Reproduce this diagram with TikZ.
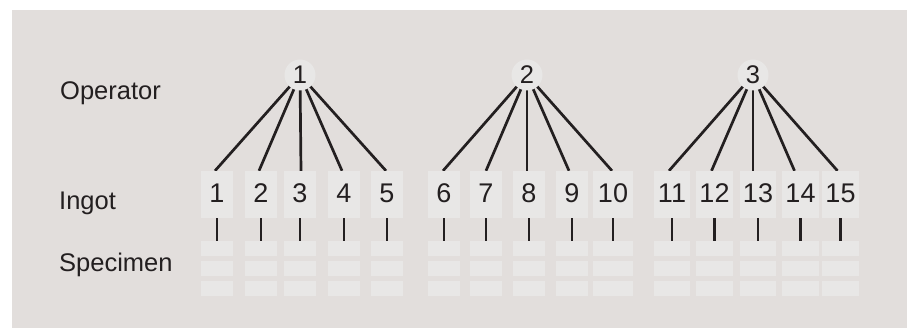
\documentclass[tikz,border=0pt]{standalone}
\usepackage{fontspec}
\setmainfont{Liberation Sans}
\usetikzlibrary{backgrounds}
\definecolor{panel}{HTML}{E2DEDC}
\definecolor{boxfill}{HTML}{E8E7E6}
\definecolor{ink}{HTML}{231F20}
\begin{document}
\begin{tikzpicture}[x=1pt,y=-1pt,
  every node/.style={font=\fontsize{25.5}{30}\selectfont, text=ink},
  ingot/.style={fill=boxfill, minimum height=47pt, inner sep=0pt,
    font=\fontsize{27}{30}\selectfont},
  spec/.style={fill=boxfill, minimum height=15pt, inner sep=0pt},
  op/.style={circle, fill=boxfill, minimum size=31pt, inner sep=0pt},
  wire/.style={draw=ink, line width=2.7pt},
  rowlabel/.style={anchor=base west, inner sep=0pt}]
  \useasboundingbox (0,0) rectangle (907,328);
  \begin{pgfonlayer}{background}
    \fill[white] (0,0) rectangle (907,328);
    \fill[panel] (12,10) rectangle (907,328);
  \end{pgfonlayer}

  % row labels
  \node[rowlabel] (lop) at (60,100) {Operator};
  \node[rowlabel] (ling) at (59,210) {Ingot};
  \node[rowlabel] (lspec) at (59,272) {Specimen};

  % operators
  \node[op] (o1) at (300,75) {1};
  \node[op] (o2) at (527,75) {2};
  \node[op] (o3) at (753,75) {3};

  % ingots with their three specimens each
  \foreach \i/\cx/\w/\dx/\o in {1/217/32/-2/1, 2/261/32/-2/1, 3/300/32/1/1,
      4/344/32/-2/1, 5/387/32/-1/1, 6/444/32/-1/2, 7/486/32/0/2, 8/529/32/-2/2,
      9/572/32/-3/2, 10/613/40/-1/2, 11/672/36/-3/3, 12/714.5/37/-3/3,
      13/758/36/-5/3, 14/800.5/37/-6/3, 15/840.5/37/-3/3} {
    \node[ingot, minimum width=\w pt] (i\i) at (\cx,194.5) {\raisebox{2pt}{\i}};
    \foreach \r/\cy in {1/248.5, 2/268.5, 3/288.5}
      \node[spec, minimum width=\w pt] (s\i-\r) at (\cx,\cy) {};
    \begin{pgfonlayer}{background}
      \draw[wire] (o\o.center) -- ([xshift=\dx pt]i\i.north);
    \end{pgfonlayer}
    \draw[wire] (i\i.south) -- (s\i-1.north);
  }
\end{tikzpicture}
\end{document}
